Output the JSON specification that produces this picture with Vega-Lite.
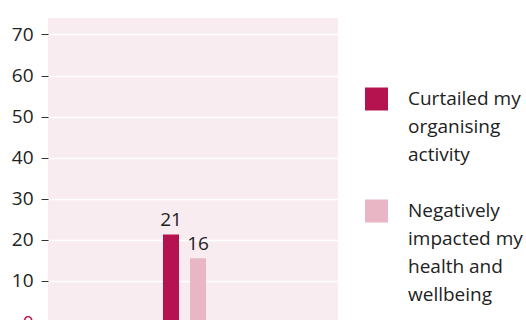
{
  "$schema": "https://vega.github.io/schema/vega-lite/v6.json",
  "autosize": {"type": "none"},
  "padding": {"left": 48, "top": 18, "right": 188, "bottom": 0},
  "width": 290,
  "height": 304,
  "background": "white",
  "config": {
    "view": {"fill": "#f8ecf0", "stroke": null},
    "font": "Open Sans",
    "style": {"guide-label": {"lineHeight": 28}}
  },
  "data": {
    "values": [
      {"category": "All", "series": "Curtailed my organising activity", "value": 21.3, "label": "21"},
      {"category": "All", "series": "Negatively impacted my health and wellbeing", "value": 15.5, "label": "16"}
    ]
  },
  "encoding": {
    "x": {"field": "category", "type": "nominal", "axis": null,
          "scale": {"paddingInner": 0, "paddingOuter": 1, "align": 0.5}},
    "xOffset": {"field": "series", "type": "nominal",
                "scale": {"paddingInner": 0.407, "paddingOuter": 0.994, "align": 0.3416}},
    "y": {"field": "value", "type": "quantitative",
          "scale": {"domain": [0, 74], "nice": false, "zero": true},
          "axis": {"title": null, "values": [0, 10, 20, 30, 40, 50, 60, 70],
                   "domain": false, "tickSize": 7, "tickColor": "#333", "tickWidth": 1,
                   "labelPadding": 8, "labelFontSize": 19, "labelFont": "Open Sans",
                   "labelColor": {"condition": {"test": "datum.value === 0", "value": "#b5134f"}, "value": "#222"},
                   "grid": true, "gridColor": "#ffffff", "gridWidth": 1.5, "gridOpacity": 1}}
  },
  "layer": [
    {
      "mark": {"type": "bar"},
      "encoding": {
        "color": {"field": "series", "type": "nominal",
                  "scale": {"domain": ["Curtailed my organising activity", "Negatively impacted my health and wellbeing"],
                            "range": ["#b5134f", "#e8b6c4"]},
                  "legend": {"title": null, "orient": "none", "legendX": 317, "legendY": 75,
                             "padding": 0,
                             "symbolType": "M-1,-1.478H1V0.522H-1Z", "symbolSize": 529,
                             "symbolStrokeWidth": 0, "symbolOpacity": 1,
                             "labelFontSize": 19, "labelFont": "Open Sans", "labelColor": "#222",
                             "labelBaseline": "alphabetic", "labelOffset": 20,
                             "labelLimit": 200, "rowPadding": 34,
                             "labelExpr": "datum.label == 'Curtailed my organising activity' ? ['Curtailed my', 'organising', 'activity'] : ['Negatively', 'impacted my', 'health and', 'wellbeing']"}}
      }
    },
    {
      "mark": {"type": "text", "baseline": "alphabetic", "dy": -8, "fontSize": 19, "font": "Open Sans", "color": "#222"},
      "encoding": {
        "text": {"field": "label"}
      }
    }
  ]
}
